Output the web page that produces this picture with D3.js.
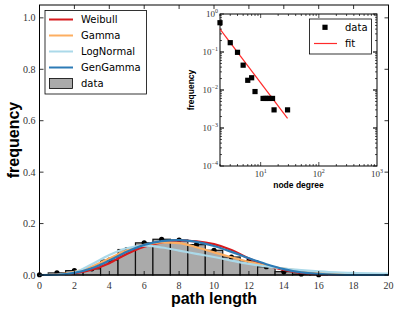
<!DOCTYPE html>
<html><head><meta charset="utf-8">
<script src="https://cdn.jsdelivr.net/npm/d3@7"></script>
<style>body{margin:0;background:#fff}svg{display:block}</style>
</head><body><svg id="c" width="399" height="312"></svg>
<script>
// ---- data ----
const pathLengths = d3.range(0, 17);
const freq = [0.001,0.008,0.017,0.024,0.058,0.099,0.125,0.139,0.136,0.118,0.096,0.07,0.055,0.032,0.013,0.004,0.001];
const curveX = d3.range(0, 21);
const weibull  = [0,0.001,0.007,0.021,0.046,0.082,0.11,0.127,0.134,0.131,0.12,0.097,0.064,0.038,0.02,0.008,0.003,0.001,0,0,0];
const gamma    = [0,0.002,0.012,0.033,0.064,0.096,0.117,0.127,0.124,0.108,0.088,0.069,0.051,0.036,0.025,0.016,0.01,0.006,0.004,0.002,0.001];
const lognormal= [0,0.0005,0.01,0.042,0.078,0.104,0.114,0.107,0.095,0.082,0.07,0.056,0.043,0.033,0.025,0.019,0.014,0.01,0.008,0.006,0.005];
const gengamma = [0,0.001,0.008,0.026,0.056,0.09,0.117,0.132,0.136,0.129,0.113,0.09,0.065,0.042,0.023,0.01,0.004,0.001,0,0,0];
const fitNames = ["Weibull","Gamma","LogNormal","GenGamma"];
const fitColors = ["#d7191c","#fdae61","#abd9e9","#2c7bb6"];
const xTicks = [0,2,4,6,8,10,12,14,16,18,20];
const yTicks = [0,0.2,0.4,0.6,0.8,1.0];
// inset
const degree = [2,3,4,5,6,7,8,11,12,13,14,16,17,29];
const degFreq = [0.59,0.176,0.098,0.045,0.018,0.021,0.0091,0.006,0.006,0.006,0.006,0.006,0.003,0.003];
const fitDeg = [2,29];
const fitFreq = [0.4,0.0018];
const insetXTicks = [10,100,1000];
const insetYTicks = [1e-4,1e-3,1e-2,1e-1,1];

const svg = d3.select("#c");
const serif = "'Liberation Serif','DejaVu Serif',serif";
const sans = "'Liberation Sans',Arial,sans-serif";

// ---- main axes ----
const L=39.5,R=388.5,T=5,B=275;
const x = d3.scaleLinear().domain([0,20]).range([L,R]);
const y = d3.scaleLinear().domain([0,1.05]).range([B,T]);
const g = svg.append("g");

// bars
g.selectAll("rect.bar").data(pathLengths.slice(1)).join("rect")
  .attr("x", d=>x(d-0.5)).attr("width", x(1)-x(0))
  .attr("y", d=>y(freq[d])).attr("height", d=>B-y(freq[d]))
  .attr("fill","#aaaaaa").attr("stroke","#111").attr("stroke-width",1.2);

// dots
g.selectAll("circle.pt").data(pathLengths).join("circle")
  .attr("cx", d=>x(d)).attr("cy", d=>y(freq[d])).attr("r",2.6).attr("fill","#000");

// curves
const series=[weibull,gamma,lognormal,gengamma];
const line = d3.line().x((d,i)=>x(curveX[i])).y(d=>y(d)).curve(d3.curveMonotoneX);
series.forEach((s,k)=>{
  g.append("path").attr("d", line(s)).attr("fill","none")
   .attr("stroke",fitColors[k]).attr("stroke-width",2.2);
});

// frame
g.append("rect").attr("x",L).attr("y",T).attr("width",R-L).attr("height",B-T)
  .attr("fill","none").attr("stroke","#000").attr("stroke-width",1);

// ticks (inward)
const ax = g.append("g").attr("stroke","#000").attr("stroke-width",0.8);
xTicks.forEach(t=>{
  ax.append("line").attr("x1",x(t)).attr("x2",x(t)).attr("y1",B).attr("y2",B-4);
  ax.append("line").attr("x1",x(t)).attr("x2",x(t)).attr("y1",T).attr("y2",T+4);
});
yTicks.forEach(t=>{
  ax.append("line").attr("x1",L).attr("x2",L+4).attr("y1",y(t)).attr("y2",y(t));
  ax.append("line").attr("x1",R).attr("x2",R-4).attr("y1",y(t)).attr("y2",y(t));
});
g.selectAll("text.xt").data(xTicks).join("text")
  .attr("x",d=>x(d)).attr("y",B+14).attr("text-anchor","middle")
  .attr("font-family",serif).attr("font-size",10).attr("fill","#333").text(d=>d);
g.selectAll("text.yt").data(yTicks).join("text")
  .attr("x",L-4).attr("y",d=>y(d)+3.5).attr("text-anchor","end")
  .attr("font-family",serif).attr("font-size",10).attr("fill","#333").text(d=>d.toFixed(1));

svg.append("text").attr("x",(L+R)/2).attr("y",304).attr("text-anchor","middle")
  .attr("font-family",sans).attr("font-weight","bold").attr("font-size",16).text("path length");
svg.append("text").attr("transform",`translate(19,${(T+B)/2}) rotate(-90)`).attr("text-anchor","middle")
  .attr("font-family",sans).attr("font-weight","bold").attr("font-size",16).text("frequency");

// legend
const lg = svg.append("g");
lg.append("rect").attr("x",45).attr("y",10.5).attr("width",101.5).attr("height",83.5)
  .attr("fill","#fff").attr("stroke","#000").attr("stroke-width",0.8);
fitNames.forEach((n,k)=>{
  const yy = 19.5 + k*16;
  lg.append("line").attr("x1",49).attr("x2",73).attr("y1",yy).attr("y2",yy)
    .attr("stroke",fitColors[k]).attr("stroke-width",2);
  lg.append("text").attr("x",81).attr("y",yy+3.5).attr("font-family","'DejaVu Sans',sans-serif")
    .attr("font-size",10).text(n);
});
lg.append("rect").attr("x",49.5).attr("y",78.5).attr("width",23).attr("height",10)
  .attr("fill","#aaaaaa").attr("stroke","#000").attr("stroke-width",0.8);
lg.append("text").attr("x",81).attr("y",87).attr("font-family","'DejaVu Sans',sans-serif")
  .attr("font-size",10).text("data");

// ---- inset ----
const iL=220,iR=377,iT=14,iB=166;
const ix = d3.scaleLog().domain([2,1000]).range([iL,iR]);
const iy = d3.scaleLog().domain([1e-4,1]).range([iB,iT]);
const ig = svg.append("g");
ig.append("rect").attr("x",iL).attr("y",iT).attr("width",iR-iL).attr("height",iB-iT)
  .attr("fill","#fff").attr("stroke","#000").attr("stroke-width",1);
// fit line
ig.append("line").attr("x1",ix(fitDeg[0])).attr("y1",iy(fitFreq[0]))
  .attr("x2",ix(fitDeg[1])).attr("y2",iy(fitFreq[1]))
  .attr("stroke","#ff2a2a").attr("stroke-width",1.2);
ig.selectAll("rect.sq").data(degree).join("rect")
  .attr("x",(d)=>ix(d)-2.6).attr("y",(d,i)=>iy(degFreq[i])-2.6)
  .attr("width",5.2).attr("height",5.2).attr("fill","#000");
// ticks
const it = ig.append("g").attr("stroke","#000").attr("stroke-width",0.7);
[1,10,100].forEach(dec=>{
  for(let m=1;m<10;m++){
    const v=dec*m; if(v<2||v>1000) continue;
    const len = m===1?4:2;
    it.append("line").attr("x1",ix(v)).attr("x2",ix(v)).attr("y1",iB).attr("y2",iB-len);
    it.append("line").attr("x1",ix(v)).attr("x2",ix(v)).attr("y1",iT).attr("y2",iT+len);
  }
});
[1e-4,1e-3,1e-2,1e-1].forEach(dec=>{
  for(let m=1;m<=10;m++){
    const v=dec*m; const len=(m===1||m===10)?4:2;
    it.append("line").attr("x1",iL).attr("x2",iL+len).attr("y1",iy(v)).attr("y2",iy(v));
    it.append("line").attr("x1",iR).attr("x2",iR-len).attr("y1",iy(v)).attr("y2",iy(v));
  }
});
insetXTicks.forEach(t=>{
  const tx = ig.append("text").attr("x",ix(t)).attr("y",iB+11).attr("text-anchor","middle")
    .attr("font-family",serif).attr("font-size",9).attr("fill","#333");
  tx.append("tspan").text("10");
  tx.append("tspan").attr("dy",-4).attr("font-size",6).text(Math.round(Math.log10(t)));
});
insetYTicks.forEach(t=>{
  const tx = ig.append("text").attr("x",iL-2).attr("y",iy(t)+3).attr("text-anchor","end")
    .attr("font-family",serif).attr("font-size",9).attr("fill","#333");
  tx.append("tspan").text("10");
  tx.append("tspan").attr("dy",-4).attr("font-size",6).text(Math.round(Math.log10(t)).toString().replace("-","\u2212"));
});
ig.append("text").attr("x",(iL+iR)/2).attr("y",188).attr("text-anchor","middle")
  .attr("font-family",sans).attr("font-weight","bold").attr("font-size",8.5).text("node degree");
ig.append("text").attr("transform",`translate(194,${(iT+iB)/2}) rotate(-90)`).attr("text-anchor","middle")
  .attr("font-family",sans).attr("font-weight","bold").attr("font-size",8.5).text("frequency");
// inset legend
ig.append("rect").attr("x",309.5).attr("y",19).attr("width",62).attr("height",35)
  .attr("fill","#fff").attr("stroke","#000").attr("stroke-width",0.8);
ig.append("rect").attr("x",322.4).attr("y",24.7).attr("width",5.2).attr("height",5.2).attr("fill","#000");
ig.append("text").attr("x",345).attr("y",31).attr("font-family","'DejaVu Sans',sans-serif").attr("font-size",10).text("data");
ig.append("line").attr("x1",314).attr("x2",337).attr("y1",43.5).attr("y2",43.5).attr("stroke","#ff2a2a").attr("stroke-width",1.2);
ig.append("text").attr("x",345).attr("y",47).attr("font-family","'DejaVu Sans',sans-serif").attr("font-size",10).text("fit");
</script></body></html>
